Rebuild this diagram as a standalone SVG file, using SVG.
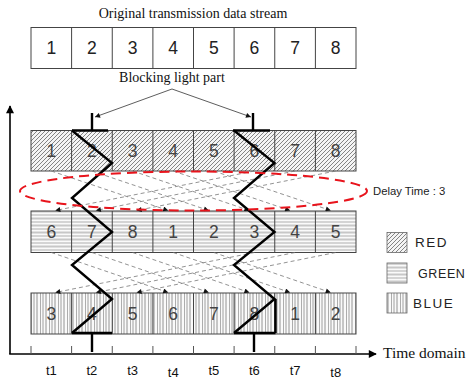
<svg xmlns="http://www.w3.org/2000/svg" width="467" height="381" viewBox="0 0 467 381">
  <style>
    .serif { font-family: "Liberation Serif", "Times New Roman", serif; fill: #111; }
    .sans { font-family: "Liberation Sans", Arial, sans-serif; }
    .cell { stroke: #444; stroke-width: 1; }
    .num { font-family: "Liberation Sans", Arial, sans-serif; font-size: 17.5px; text-anchor: middle; }
    .top .num { fill: #222; }
    .row .num { fill: #444; }
    .tl { font-family: "Liberation Sans", Arial, sans-serif; font-size: 13px; text-anchor: middle; fill: #111; }
    .dash { stroke: #777; stroke-width: 0.8; stroke-dasharray: 4 3; fill: none; }
    .zig { stroke: #000; stroke-width: 2.4; fill: none; stroke-linejoin: miter; }
    .axis { stroke: #000; stroke-width: 1.6; fill: none; }
    .tick { stroke: #555; stroke-width: 1; }
    .leg { font-family: "Liberation Sans", Arial, sans-serif; fill: #222; }
  </style>
  <defs>
    <pattern id="diag" patternUnits="userSpaceOnUse" width="4" height="4">
      <rect width="4" height="4" fill="#f4f4f4"/>
      <path d="M-1,1 l2,-2 M0,4 l4,-4 M3,5 l2,-2" stroke="#666" stroke-width="0.8"/>
    </pattern>
    <pattern id="horiz" patternUnits="userSpaceOnUse" width="8" height="7" y="0.5">
      <rect width="8" height="7" fill="#fafafa"/>
      <line x1="0" y1="1" x2="8" y2="1" stroke="#777" stroke-width="0.8"/>
      <line x1="0" y1="4.5" x2="8" y2="4.5" stroke="#999" stroke-width="0.8"/>
    </pattern>
    <pattern id="vert" patternUnits="userSpaceOnUse" width="9" height="8">
      <rect width="9" height="8" fill="#fafafa"/>
      <line x1="1" y1="0" x2="1" y2="8" stroke="#777" stroke-width="0.8"/>
      <line x1="4.5" y1="0" x2="4.5" y2="8" stroke="#999" stroke-width="0.8"/>
      <line x1="7" y1="0" x2="7" y2="8" stroke="#888" stroke-width="0.8"/>
    </pattern>
    <marker id="ah" viewBox="0 0 10 10" refX="10" refY="5" markerWidth="6" markerHeight="5" markerUnits="userSpaceOnUse" orient="auto">
      <path d="M0,0 L10,5 L0,10 Z" fill="#111"/>
    </marker>
    <marker id="axh" viewBox="0 0 10 10" refX="9" refY="5" markerWidth="10" markerHeight="8" markerUnits="userSpaceOnUse" orient="auto">
      <path d="M0,0 L10,5 L0,10 Z" fill="#000"/>
    </marker>
  </defs>

  <rect width="467" height="381" fill="#fff"/>

  <!-- titles -->
  <g id="title">
    <text class="serif" x="193" y="18" font-size="14" text-anchor="middle">Original transmission data stream</text>
  </g>
  <g id="blocking-label">
    <text class="serif" x="172" y="82" font-size="14" text-anchor="middle">Blocking light part</text>
  </g>

  <!-- original stream -->
  <g id="stream" class="top">
    <rect class="cell" x="31" y="27.5" width="325" height="41" fill="#fff"/>
    <path class="cell" d="M71.6,27.5V68.5 M112.25,27.5V68.5 M152.9,27.5V68.5 M193.5,27.5V68.5 M234.1,27.5V68.5 M274.75,27.5V68.5 M315.4,27.5V68.5"/>
    <text class="num" x="51.3" y="54">1</text>
    <text class="num" x="91.9" y="54">2</text>
    <text class="num" x="132.6" y="54">3</text>
    <text class="num" x="173.2" y="54">4</text>
    <text class="num" x="213.8" y="54">5</text>
    <text class="num" x="254.4" y="54">6</text>
    <text class="num" x="295.1" y="54">7</text>
    <text class="num" x="335.7" y="54">8</text>
  </g>

  <!-- red frame -->
  <g id="row-red" class="row">
    <rect class="cell" x="31" y="130.5" width="325" height="40.5" fill="url(#diag)"/>
    <path class="cell" d="M71.6,130.5V171 M112.25,130.5V171 M152.9,130.5V171 M193.5,130.5V171 M234.1,130.5V171 M274.75,130.5V171 M315.4,130.5V171"/>
    <text class="num" x="51.3" y="157">1</text>
    <text class="num" x="91.9" y="157">2</text>
    <text class="num" x="132.6" y="157">3</text>
    <text class="num" x="173.2" y="157">4</text>
    <text class="num" x="213.8" y="157">5</text>
    <text class="num" x="254.4" y="157">6</text>
    <text class="num" x="295.1" y="157">7</text>
    <text class="num" x="335.7" y="157">8</text>
  </g>

  <!-- green frame -->
  <g id="row-green" class="row">
    <rect class="cell" x="31" y="211" width="325" height="41.5" fill="url(#horiz)"/>
    <path class="cell" d="M71.6,211V252.5 M112.25,211V252.5 M152.9,211V252.5 M193.5,211V252.5 M234.1,211V252.5 M274.75,211V252.5 M315.4,211V252.5"/>
    <text class="num" x="51.3" y="238">6</text>
    <text class="num" x="91.9" y="238">7</text>
    <text class="num" x="132.6" y="238">8</text>
    <text class="num" x="173.2" y="238">1</text>
    <text class="num" x="213.8" y="238">2</text>
    <text class="num" x="254.4" y="238">3</text>
    <text class="num" x="295.1" y="238">4</text>
    <text class="num" x="335.7" y="238">5</text>
  </g>

  <!-- blue frame -->
  <g id="row-blue" class="row">
    <rect class="cell" x="31" y="293" width="325" height="41" fill="url(#vert)"/>
    <path class="cell" d="M71.6,293V334 M112.25,293V334 M152.9,293V334 M193.5,293V334 M234.1,293V334 M274.75,293V334 M315.4,293V334"/>
    <text class="num" x="51.3" y="320">3</text>
    <text class="num" x="91.9" y="320">4</text>
    <text class="num" x="132.6" y="320">5</text>
    <text class="num" x="173.2" y="320">6</text>
    <text class="num" x="213.8" y="320">7</text>
    <text class="num" x="254.4" y="320">8</text>
    <text class="num" x="295.1" y="320">1</text>
    <text class="num" x="335.7" y="320">2</text>
  </g>

  <!-- delay connectors -->
  <g id="connectors">
    <g class="dash" marker-end="url(#ah)">
      <line x1="51.3" y1="171" x2="168.2" y2="210.5"/>
      <line x1="91.9" y1="171" x2="208.8" y2="210.5"/>
      <line x1="132.6" y1="171" x2="249.4" y2="210.5"/>
      <line x1="173.2" y1="171" x2="290.1" y2="210.5"/>
      <line x1="213.8" y1="171" x2="330.7" y2="210.5"/>
      <line x1="254.4" y1="171" x2="55.3" y2="210.5"/>
      <line x1="295.1" y1="171" x2="95.9" y2="210.5"/>
      <line x1="335.7" y1="171" x2="136.6" y2="210.5"/>

      <line x1="51.3" y1="252.5" x2="168.2" y2="292.5"/>
      <line x1="91.9" y1="252.5" x2="208.8" y2="292.5"/>
      <line x1="132.6" y1="252.5" x2="249.4" y2="292.5"/>
      <line x1="173.2" y1="252.5" x2="290.1" y2="292.5"/>
      <line x1="213.8" y1="252.5" x2="330.7" y2="292.5"/>
      <line x1="254.4" y1="252.5" x2="55.3" y2="292.5"/>
      <line x1="295.1" y1="252.5" x2="95.9" y2="292.5"/>
      <line x1="335.7" y1="252.5" x2="136.6" y2="292.5"/>
    </g>

    <!-- pointers from the blocking label -->
    <line x1="172" y1="89" x2="95" y2="117" stroke="#333" stroke-width="0.8" marker-end="url(#ah)"/>
    <line x1="172" y1="89" x2="251" y2="117" stroke="#333" stroke-width="0.8" marker-end="url(#ah)"/>

    <!-- blocked slots -->
    <path class="zig" d="M92,113V130.5 M72,130.5H108"/>
    <path class="zig" d="M253,113V130.5 M233,130.5H270"/>
    <polyline class="zig" points="72,130.5 112,163 72,198 112,232 72,265 112,299 72,333"/>
    <polyline class="zig" points="234,130.5 274.5,163 234,198 274.5,232 234,265 274.5,299 234,333"/>
    <path class="zig" d="M72,333H112 M92,333V352"/>
    <path class="zig" d="M234,333H275.5 M254,333V352 M275.5,299V333"/>
  </g>

  <!-- delay window -->
  <g id="delay">
    <ellipse cx="193.5" cy="191" rx="173.5" ry="19.5" fill="none" stroke="#e8141c" stroke-width="2" stroke-dasharray="10 6"/>
    <text class="sans" x="373" y="194.5" font-size="11.3" fill="#222">Delay Time : 3</text>
  </g>

  <!-- axes -->
  <g id="axes">
    <line class="axis" x1="10" y1="354" x2="10" y2="106" marker-end="url(#axh)"/>
    <line class="axis" x1="9.2" y1="354" x2="376" y2="354" marker-end="url(#axh)"/>
    <path class="tick" d="M31,346V354 M71.6,346V354 M112.25,346V354 M152.9,346V354 M193.5,346V354 M234.1,346V354 M274.75,346V354 M315.4,346V354 M356,346V354"/>
    <text class="serif" x="383" y="358" font-size="15.5">Time domain</text>
    <text class="tl" x="51.3" y="375">t1</text>
    <text class="tl" x="91.9" y="375">t2</text>
    <text class="tl" x="132.6" y="375">t3</text>
    <text class="tl" x="173.2" y="377">t4</text>
    <text class="tl" x="213.8" y="375">t5</text>
    <text class="tl" x="254.4" y="375">t6</text>
    <text class="tl" x="295.1" y="375">t7</text>
    <text class="tl" x="335.7" y="377">t8</text>
  </g>

  <!-- legend -->
  <g id="legend-red">
    <rect x="387" y="232.5" width="20" height="20" fill="url(#diag)" stroke="#666" stroke-width="0.8"/>
    <text class="leg" x="415" y="247" font-size="13.5" letter-spacing="1.5">RED</text>
  </g>
  <g id="legend-green">
    <rect x="387" y="263" width="20" height="20" fill="url(#horiz)" stroke="#666" stroke-width="0.8"/>
    <text class="leg" x="418" y="277.5" font-size="12.5" letter-spacing="0.6">GREEN</text>
  </g>
  <g id="legend-blue">
    <rect x="387" y="293" width="20" height="20" fill="url(#vert)" stroke="#666" stroke-width="0.8"/>
    <text class="leg" x="413" y="307.5" font-size="13.5" letter-spacing="1.5">BLUE</text>
  </g>
</svg>
